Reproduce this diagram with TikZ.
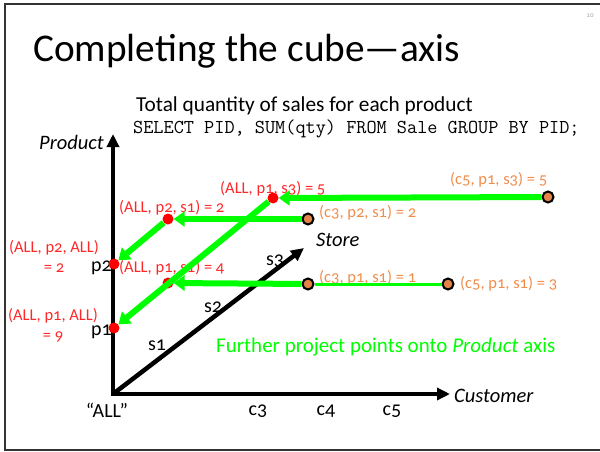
\documentclass[tikz,border=0pt]{standalone}
\usepackage{fontspec}
\setmainfont{Carlito}[Numbers=OldStyle]
\usetikzlibrary{arrows.meta}
\definecolor{rollup}{RGB}{255,40,40}
\definecolor{cellorange}{RGB}{240,140,75}
\definecolor{projgreen}{RGB}{0,255,0}
\begin{document}
\begin{tikzpicture}[x=1pt,y=-1pt,
  axis/.style={line width=4.5pt,line join=miter},
  projarrow/.style={projgreen,line width=6pt,-{Triangle[length=11pt,width=15pt]}},
  cell/.style={circle,draw=black,fill=cellorange!95!black,line width=2pt,inner sep=0pt,minimum size=11pt},
  agg/.style={circle,fill=red,inner sep=0pt,minimum size=11pt},
  rlab/.style={text=rollup,font=\fontsize{16.5}{20}\selectfont,inner sep=0pt},
  olab/.style={text=cellorange,font=\fontsize{16.5}{18}\selectfont,inner sep=0pt},
  dimlab/.style={font=\fontsize{20.5}{22}\selectfont\itshape,inner sep=0pt},
  ticklab/.style={font=\fontsize{20}{22}\selectfont,inner sep=0pt}]
\useasboundingbox (0,0) rectangle (600,452);
\draw[line width=1.5pt,black!80] (5,4) rectangle (640,450);
\node[text=black!35,font=\fontsize{7}{8}\selectfont] (pagenum) at (590,16) {10};
\node[anchor=base west,inner sep=0pt,font=\fontsize{39.3}{42}\selectfont] (title) at (33,62) {Completing the cube—axis};
\node[anchor=base west,inner sep=0pt,font=\fontsize{21.3}{24}\selectfont] (question) at (136,111) {Total quantity of sales for each product};
\node[anchor=base west,inner sep=0pt,font=\ttfamily\fontsize{19.7}{22}\selectfont] (query) at (133,133) {SELECT PID, SUM(qty) FROM Sale GROUP BY PID;};
% the three axes
\coordinate (origin) at (113,394);
\coordinate (prodend) at (113,134);
\coordinate (custend) at (450,394);
\coordinate (storeend) at (304,248);
\draw[axis,{Triangle[length=13pt,width=12pt]}-{Triangle[length=13pt,width=12pt]}] (prodend) -- (origin) -- (custend);
\draw[axis,-{Triangle[length=13pt,width=12pt]}] (origin) -- (storeend);
\node[dimlab,anchor=base east] (product) at (104,149) {Product};
\node[dimlab,anchor=west] (customer) at (454,396) {Customer};
\node[dimlab,anchor=west] (store) at (316,240) {Store};
\node[ticklab,anchor=east] (p2) at (112,268) {p2};
\node[ticklab,anchor=east] (p1) at (112,332) {p1};
\node[ticklab] (s1) at (157,345) {s1};
\node[ticklab] (s2) at (213,307) {s2};
\node[ticklab] (s3) at (275,261) {s3};
\node[ticklab] (all) at (107,410) {“ALL”};
\node[ticklab] (c3) at (258,411) {c3};
\node[ticklab] (c4) at (326,411) {c4};
\node[ticklab] (c5) at (392,411) {c5};
% values of the cells and of the aggregates
\node[rlab,anchor=west] (lallp1s3) at (220,189) {(ALL, p1, s3) = 5};
\node[rlab,anchor=west] (lallp2s1) at (119,208) {(ALL, p2, s1) = 2};
\node[rlab,anchor=west] (lallp1s1) at (119,268) {(ALL, p1, s1) = 4};
\node[rlab,align=center] (lp2all) at (54,256) {(ALL, p2, ALL)\\= 2};
\node[rlab,align=center] (lp1all) at (53,325) {(ALL, p1, ALL)\\= 9};
\node[olab,anchor=west] (lc5p1s3) at (450,180) {(c5, p1, s3) = 5};
\node[olab,anchor=west] (lc3p2s1) at (319,213) {(c3, p2, s1) = 2};
\node[olab,anchor=west] (lc3p1s1) at (319,278) {(c3, p1, s1) = 1};
\node[olab,anchor=west] (lc5p1s1) at (460,284) {(c5, p1, s1) = 3};
\node[anchor=base west,inner sep=0pt,text=projgreen,font=\fontsize{21}{24}\selectfont] (note) at (216,352) {Further project points onto \textit{Product} axis};
% points
\node[agg] (allp2s1) at (168,219) {};
\node[agg] (allp1s1) at (168,283) {};
\node[agg] (allp1s3) at (273,198) {};
\node[agg] (p2all) at (114,264) {};
\node[agg] (p1all) at (114,328) {};
\node[cell] (c3p2s1) at (308,219) {};
\node[cell] (c3p1s1) at (308,284) {};
\node[cell] (c5p1s1) at (448,284) {};
\node[cell] (c5p1s3) at (548,197) {};
% projections
\draw[projgreen,line width=3pt] (c5p1s1) -- (c3p1s1);
\draw[projarrow] (c3p1s1) -- (allp1s1);
\draw[projarrow] (c3p2s1) -- (allp2s1);
\draw[projarrow] (c5p1s3) -- (allp1s3);
\draw[projarrow] (allp1s3) -- (p1all);
\draw[projarrow] (allp2s1) -- (p2all);
\end{tikzpicture}
\end{document}
